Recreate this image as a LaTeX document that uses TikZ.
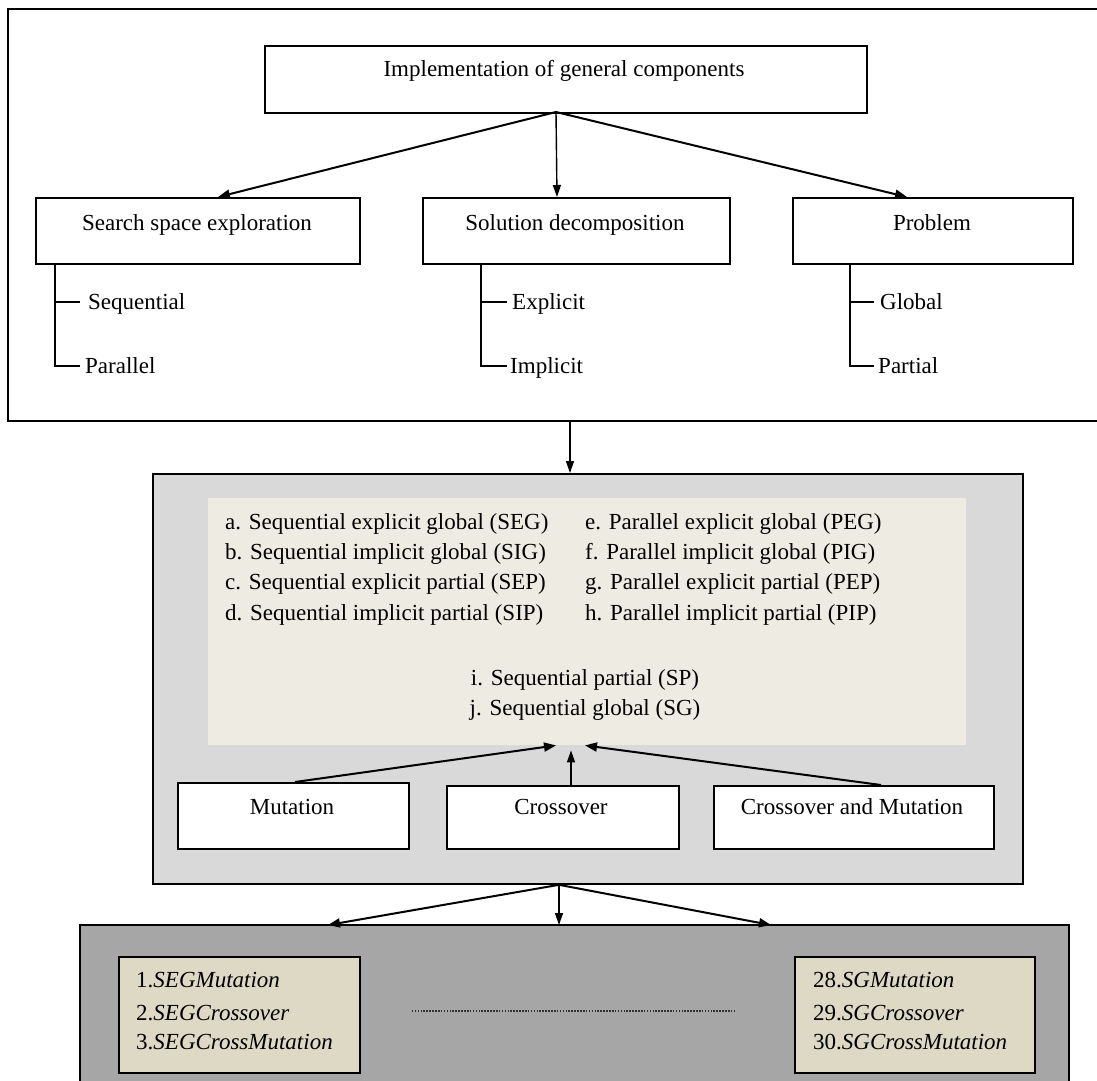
\documentclass[tikz,border=0pt]{standalone}
\usepackage{fontspec}
\setmainfont{Liberation Serif}
\usetikzlibrary{arrows.meta,calc}
\definecolor{lgray}{HTML}{D9D9D9}
\definecolor{dgray}{HTML}{A6A6A6}
\definecolor{beigeA}{HTML}{EEECE2}
\definecolor{beigeB}{HTML}{DDD9C4}
\begin{document}
\begin{tikzpicture}[x=1pt,y=-1pt,
  box/.style={draw, line width=1.8pt, fill=white, inner sep=0pt, anchor=north west},
  txt/.style={inner sep=0pt, font=\fontsize{23}{28}\selectfont},
  arr/.style={line width=2pt, -{Triangle[length=12pt,width=9pt]}},
  varr/.style={line width=1.4pt, -{Triangle[length=12pt,width=8pt]}},
  tree/.style={line width=1.7pt},
  dots/.style={line width=1.6pt, dash pattern=on 1.6pt off 1.3pt, black!80}]
\useasboundingbox (0,0) rectangle (1097,1080);

% ---------- top section ----------
\draw[line width=1.8pt] (1100,9) -- (8,9) -- (8,421) -- (1100,421);
\coordinate (b1s) at (570,421);

\node[box, minimum width=602pt, minimum height=67pt] (impl) at (264,45) {};
\node[txt, anchor=base] (implt) at (564,76) {Implementation of general components};
\coordinate (o1) at (556,112);

\node[box, minimum width=324pt, minimum height=66pt] (search) at (35,197) {};
\node[box, minimum width=307pt, minimum height=66pt] (sol) at (422,197) {};
\node[box, minimum width=280pt, minimum height=66pt] (prob) at (792,197) {};
\node[txt, anchor=base] (searcht) at (197,230) {Search space exploration};
\node[txt, anchor=base] (solt) at (575,230) {Solution decomposition};
\node[txt, anchor=base] (probt) at (932,230) {Problem};

\draw[arr] (o1) -- ($(search.north west)+(183,0)$);
\draw[varr] (o1) -- ($(sol.north west)+(135,0)$);
\draw[arr] (o1) -- ($(prob.north west)+(115,0)$);

% tree lines
\node[txt, anchor=base west] (seq) at (88,309) {Sequential};
\node[txt, anchor=base west] (par) at (85,373) {Parallel};
\node[txt, anchor=base west] (expl) at (512,309) {Explicit};
\node[txt, anchor=base west] (impc) at (510,373) {Implicit};
\node[txt, anchor=base west] (glob) at (880,309) {Global};
\node[txt, anchor=base west] (part) at (878,373) {Partial};

\coordinate (lv1) at ($(search.south west)+(20,0)$);
\coordinate (lv2) at ($(sol.south west)+(59,0)$);
\coordinate (lv3) at ($(prob.south west)+(58,0)$);
\draw[tree] (lv1) |- ([xshift=-5pt,yshift=7pt]par.base west);
\draw[tree] ([xshift=-8pt,yshift=7pt]seq.base west) -- ([yshift=7pt]seq.base west -| lv1);
\draw[tree] (lv2) |- ([xshift=-3pt,yshift=7pt]impc.base west);
\draw[tree] ([xshift=-5pt,yshift=7pt]expl.base west) -- ([yshift=7pt]expl.base west -| lv2);
\draw[tree] (lv3) |- ([xshift=-4pt,yshift=7pt]part.base west);
\draw[tree] ([xshift=-6pt,yshift=7pt]glob.base west) -- ([yshift=7pt]glob.base west -| lv3);

% ---------- middle section ----------
\node[box, fill=lgray, minimum width=870pt, minimum height=410pt] (grp) at (152,473) {};
\draw[varr] (b1s) -- ($(grp.north west)+(418,0)$);
\node[fill=beigeA, inner sep=0pt, anchor=north west, minimum width=758pt, minimum height=247pt] (list) at (208,498) {};

\node[txt, anchor=base west] (la) at (225,529) {a. Sequential explicit global (SEG)};
\node[txt, anchor=base west] (lb) at (225,559) {b. Sequential implicit global (SIG)};
\node[txt, anchor=base west] (lc) at (225,589) {c. Sequential explicit partial (SEP)};
\node[txt, anchor=base west] (ld) at (225,620) {d. Sequential implicit partial (SIP)};
\node[txt, anchor=base west] (le) at (585,529) {e. Parallel explicit global (PEG)};
\node[txt, anchor=base west] (lf) at (585,559) {f. Parallel implicit global (PIG)};
\node[txt, anchor=base west] (lg) at (585,589) {g. Parallel explicit partial (PEP)};
\node[txt, anchor=base west] (lh) at (585,620) {h. Parallel implicit partial (PIP)};
\node[txt, anchor=base] (li) at (585,685) {i. Sequential partial (SP)};
\node[txt, anchor=base] (lj) at (585,715) {j. Sequential global (SG)};

\node[box, minimum width=231pt, minimum height=66pt] (mut) at (177,782) {};
\node[box, minimum width=232pt, minimum height=63pt] (cro) at (446,785) {};
\node[box, minimum width=280pt, minimum height=63pt] (cm) at (713,785) {};
\node[txt, anchor=base] (mutt) at (292,814) {Mutation};
\node[txt, anchor=base] (crot) at (561,814) {Crossover};
\node[txt, anchor=base] (cmt) at (852,814) {Crossover and Mutation};

\draw[arr] ($(mut.north west)+(118,0)$) -- ($(list.south west)+(348,0)$);
\draw[varr] ($(cro.north west)+(125,0)$) -- ($(list.south west)+(363,5)$);
\draw[arr] ($(cm.north west)+(168,0)$) -- ($(list.south west)+(377,0)$);

% ---------- bottom section ----------
\coordinate (b2s) at ($(grp.south west)+(407,0)$);
\coordinate (b3nw) at (80,925);
\coordinate (b3ne) at (1069,925);
\fill[dgray] (80,1085) rectangle (b3ne);
\draw[line width=1.8pt] (80,1085) -- (b3nw) -- (b3ne) -- (1069,1085);

\draw[arr] (b2s) -- ($(b3nw)+(248,0)$);
\draw[varr] (b2s) -- ($(b3nw)+(479,0)$);
\draw[arr] (b2s) -- ($(b3nw)+(691,0)$);

\node[box, fill=beigeB, minimum width=241pt, minimum height=116pt] (r1) at (118,956) {};
\node[box, fill=beigeB, minimum width=240pt, minimum height=116pt] (r30) at (794,956) {};

\node[txt, anchor=base west] (m1) at (136,987) {1.\textit{SEGMutation}};
\node[txt, anchor=base west] (m2) at (136,1020) {2.\textit{SEGCrossover}};
\node[txt, anchor=base west] (m3) at (136,1049) {3.\textit{SEGCrossMutation}};
\node[txt, anchor=base west] (m28) at (813,987) {28.\textit{SGMutation}};
\node[txt, anchor=base west] (m29) at (813,1020) {29.\textit{SGCrossover}};
\node[txt, anchor=base west] (m30) at (813,1049) {30.\textit{SGCrossMutation}};

\draw[dots] ($(r1.east)+(51,-4)$) -- ($(r30.west)+(-59,-4)$);
\end{tikzpicture}
\end{document}
